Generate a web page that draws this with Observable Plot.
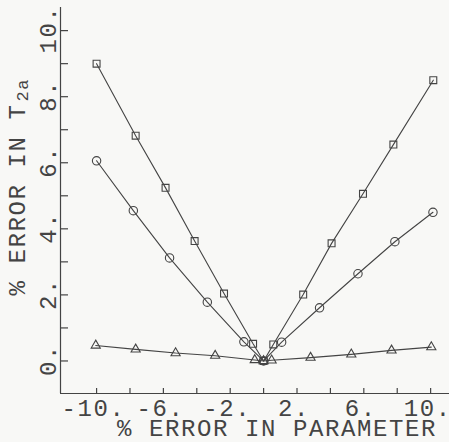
<!DOCTYPE html>
<html><head><meta charset="utf-8">
<script src="https://cdn.jsdelivr.net/npm/d3@7"></script>
<script src="https://cdn.jsdelivr.net/npm/@observablehq/plot@0.6"></script>
<style>html,body{margin:0;padding:0;background:#f8f8f6;overflow:hidden}</style>
</head><body><div id="chart"></div>
<script>
// Series (x = % error in parameter, y = % error in T2a)
const squareX = [-10, -7.66, -5.87, -4.13, -2.37, -0.63, 0, 0.58, 2.37, 4.07, 5.95, 7.77, 10.16];
const squareY = [9.0, 6.82, 5.24, 3.63, 2.04, 0.52, 0, 0.50, 2.01, 3.56, 5.06, 6.55, 8.5];
const circleX = [-10, -7.8, -5.63, -3.37, -1.18, 0, 1.08, 3.35, 5.65, 7.86, 10.14];
const circleY = [6.06, 4.55, 3.12, 1.78, 0.58, 0, 0.57, 1.61, 2.64, 3.61, 4.5];
const triangleX = [-10.05, -7.66, -5.27, -2.9, -0.53, 0, 0.48, 2.81, 5.25, 7.66, 10.04];
const triangleY = [0.47, 0.35, 0.24, 0.16, 0.03, 0, 0.02, 0.10, 0.20, 0.32, 0.42];

// Axes
const xDomain = [-12.16, 11.13];
const yDomain = [-0.985, 10.7];
const xTickValues = [-10, -8, -6, -4, -2, 0, 2, 4, 6, 8, 10];
const xLabelValues = [-10, -6, -2, 2, 6, 10];
const xLabelText = ["-10.", "-6.", "-2.", "2.", "6.", "10."];
const yTickValues = [0, 1, 2, 3, 4, 5, 6, 7, 8, 9, 10];
const yLabelValues = [0, 2, 4, 6, 8, 10];
const yLabelText = ["0.", "2.", "4.", "6.", "8.", "10."];
const xTitle = "% ERROR IN PARAMETER";
const yTitle = "% ERROR IN T";
const ySubscript = "2a";

const ink = "#444444";
const paper = "#f8f8f6";

const toRows = (name, xs, ys) => xs.map((x, i) => ({series: name, x, y: ys[i]}));
const squares = toRows("square", squareX, squareY);
const circles = toRows("circle", circleX, circleY);
const triangles = toRows("triangle", triangleX, triangleY);
const all = [...squares, ...circles, ...triangles];

const chart = Plot.plot({
  width: 449,
  height: 442,
  marginLeft: 60,
  marginRight: 0,
  marginTop: 7,
  marginBottom: 49,
  x: {domain: xDomain, axis: null},
  y: {domain: yDomain, axis: null},
  style: {
    background: paper,
    color: ink,
    fontFamily: "'Liberation Mono', 'DejaVu Sans Mono', monospace",
    fontSize: "24px",
    letterSpacing: "1.6px",
    fontVariantNumeric: "slashed-zero"
  },
  marks: [
    // axis lines
    Plot.ruleX([xDomain[0]], {stroke: ink, strokeWidth: 1.2}),
    Plot.ruleY([yDomain[0]], {stroke: ink, strokeWidth: 1.2}),
    // inward ticks
    Plot.ruleX(xTickValues, {x: d => d, y1: () => yDomain[0], y2: () => yDomain[0], insetTop: -5, stroke: ink, strokeWidth: 1.2}),
    Plot.ruleY(yTickValues, {y: d => d, x1: () => xDomain[0], x2: () => xDomain[0], insetRight: -8, stroke: ink, strokeWidth: 1.2}),
    // tick labels
    Plot.text(xLabelValues, {x: d => d, y: () => yDomain[0], text: (d, i) => xLabelText[i], lineAnchor: "middle", dy: 14.5, dx: -3}),
    Plot.text(yLabelValues, {x: () => xDomain[0], y: d => d, text: (d, i) => yLabelText[i], rotate: -90, lineAnchor: "middle", dx: -12.5, dy: -1}),
    // titles
    Plot.text([xTitle], {frameAnchor: "bottom", text: d => d, lineAnchor: "middle", dx: 22, dy: 35}),
    Plot.text([yTitle], {frameAnchor: "left", text: d => d, rotate: -90, lineAnchor: "middle", textAnchor: "end", dx: -43.5, dy: -97}),
    Plot.text([ySubscript], {frameAnchor: "left", text: d => d, rotate: -90, lineAnchor: "middle", textAnchor: "start", fontSize: 17, dx: -38, dy: -99}),
    // series lines
    Plot.line(all, {x: "x", y: "y", z: "series", stroke: ink, strokeWidth: 1.1}),
    // markers
    Plot.dot(squares, {x: "x", y: "y", symbol: "square", r: 3.9, stroke: ink, strokeWidth: 1.1, fill: "none"}),
    Plot.dot(circles, {x: "x", y: "y", symbol: "circle", r: 4.2, stroke: ink, strokeWidth: 1.1, fill: "none"}),
    Plot.dot(triangles, {x: "x", y: "y", symbol: "triangle", r: 3.4, stroke: ink, strokeWidth: 1.1, fill: "none"})
  ]
});
document.getElementById("chart").appendChild(chart);
</script>
</body></html>
